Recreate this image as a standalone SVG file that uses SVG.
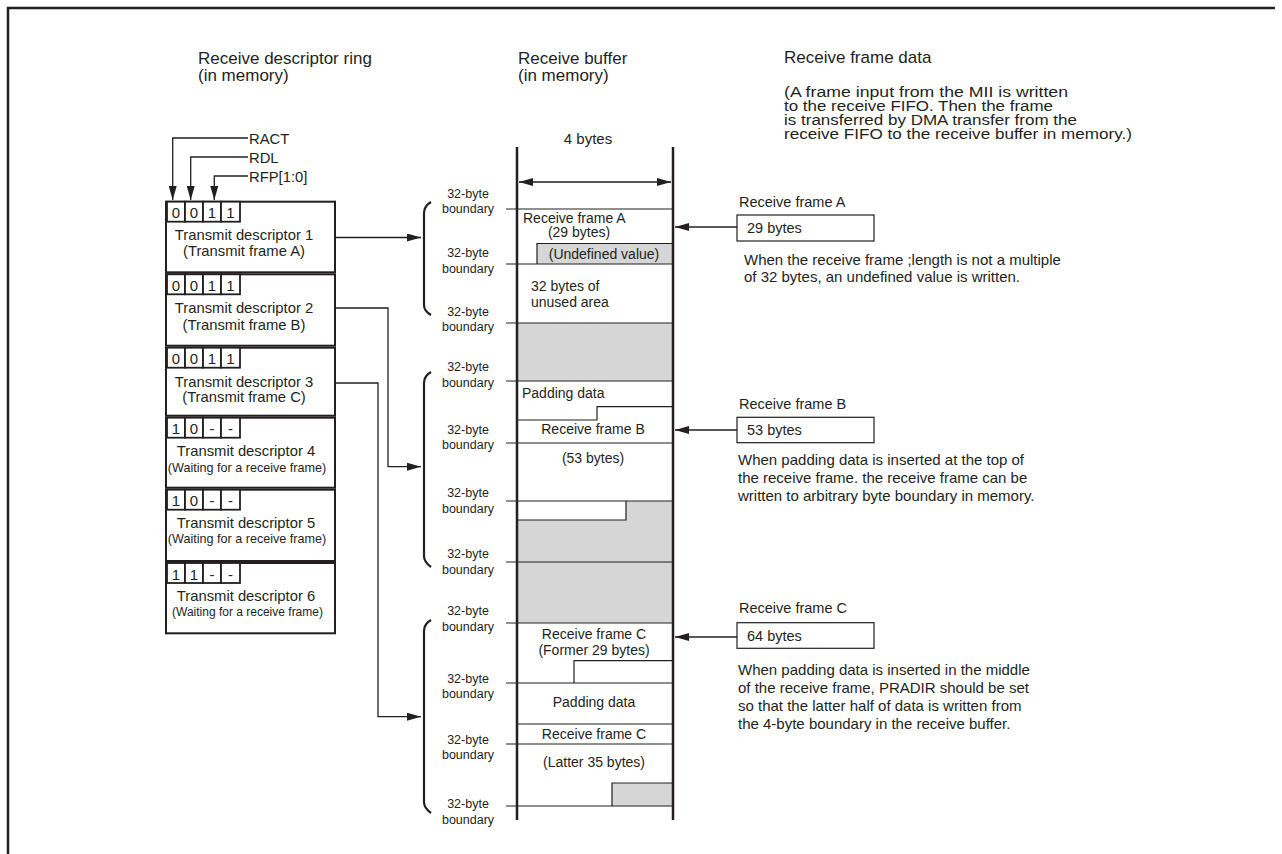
<svg xmlns="http://www.w3.org/2000/svg" width="1282" height="854" viewBox="0 0 1282 854">
<defs>
<marker id="ah" viewBox="0 0 14 8" refX="14" refY="4" markerWidth="14" markerHeight="8" markerUnits="userSpaceOnUse" orient="auto-start-reverse"><path d="M0,0 L14,4 L0,8 Z" fill="#231f20"/></marker>
<style>
text{font-family:"Liberation Sans",Arial,sans-serif;fill:#231f20}
.h{font-size:17px}
.p{font-size:14px}
.d{font-size:14.8px}
.bit{font-size:15px;text-anchor:middle}
.b{font-size:14px}
.m{text-anchor:middle}
.lbl{font-size:12.5px;text-anchor:middle}
.r{font-size:14.5px}
.ds{font-size:15px}
.box{fill:#fff;stroke:#231f20;stroke-width:2}
.cell{fill:#fff;stroke:#231f20;stroke-width:1.8}
.bl{fill:none;stroke:#231f20;stroke-width:1.2}
.thick{fill:none;stroke:#231f20;stroke-width:2.5}
.gray{fill:#d6d6d6}
.con{fill:none;stroke:#231f20;stroke-width:1.3;marker-end:url(#ah)}
.br{fill:none;stroke:#231f20;stroke-width:2.2}
</style>
</defs>
<rect width="1282" height="854" fill="#fff"/>
<path d="M8,854 V8 H1275" class="thick"/>

<g id="headings">
<text class="h" x="198" y="64">Receive descriptor ring</text>
<text class="h" x="198" y="81">(in memory)</text>
<text class="h" x="518" y="64">Receive buffer</text>
<text class="h" x="518" y="81">(in memory)</text>
<text class="h" x="784" y="63">Receive frame data</text>
<text class="p" x="784" y="97" textLength="284" lengthAdjust="spacingAndGlyphs">(A frame input from the MII is written</text>
<text class="p" x="784" y="111" textLength="269" lengthAdjust="spacingAndGlyphs">to the receive FIFO. Then the frame</text>
<text class="p" x="784" y="125" textLength="293" lengthAdjust="spacingAndGlyphs">is transferred by DMA transfer from the</text>
<text class="p" x="784" y="139" textLength="348" lengthAdjust="spacingAndGlyphs">receive FIFO to the receive buffer in memory.)</text>
</g>

<g id="bits-labels">
<text class="d" x="249" y="144">RACT</text>
<text class="d" x="249" y="163">RDL</text>
<text class="d" x="249" y="182">RFP[1:0]</text>
</g>

<g id="desc1">
<rect class="box" x="166" y="201.7" width="169" height="70.6"/>
<rect class="cell" x="167" y="201.7" width="18" height="20"/><rect class="cell" x="185" y="201.7" width="18" height="20"/><rect class="cell" x="203" y="201.7" width="18" height="20"/><rect class="cell" x="221" y="201.7" width="19" height="20"/>
<text class="bit" x="176" y="218">0</text><text class="bit" x="194" y="218">0</text><text class="bit" x="212" y="218">1</text><text class="bit" x="230.5" y="218">1</text>
<text class="d m" x="244" y="240">Transmit descriptor 1</text>
<text class="d m" x="244" y="256">(Transmit frame A)</text>
</g>
<g id="desc2">
<rect class="box" x="166" y="274.3" width="169" height="71.4"/>
<rect class="cell" x="167" y="274.3" width="18" height="20"/><rect class="cell" x="185" y="274.3" width="18" height="20"/><rect class="cell" x="203" y="274.3" width="18" height="20"/><rect class="cell" x="221" y="274.3" width="19" height="20"/>
<text class="bit" x="176" y="290.5">0</text><text class="bit" x="194" y="290.5">0</text><text class="bit" x="212" y="290.5">1</text><text class="bit" x="230.5" y="290.5">1</text>
<text class="d m" x="244" y="313">Transmit descriptor 2</text>
<text class="d m" x="244" y="330">(Transmit frame B)</text>
</g>
<g id="desc3">
<rect class="box" x="166" y="347.7" width="169" height="68"/>
<rect class="cell" x="167" y="347.7" width="18" height="20"/><rect class="cell" x="185" y="347.7" width="18" height="20"/><rect class="cell" x="203" y="347.7" width="18" height="20"/><rect class="cell" x="221" y="347.7" width="19" height="20"/>
<text class="bit" x="176" y="364">0</text><text class="bit" x="194" y="364">0</text><text class="bit" x="212" y="364">1</text><text class="bit" x="230.5" y="364">1</text>
<text class="d m" x="244" y="387">Transmit descriptor 3</text>
<text class="d m" x="244" y="402">(Transmit frame C)</text>
</g>
<g id="desc4">
<rect class="box" x="166" y="417.7" width="169" height="70"/>
<rect class="cell" x="167" y="417.7" width="18" height="20"/><rect class="cell" x="185" y="417.7" width="18" height="20"/><rect class="cell" x="203" y="417.7" width="18" height="20"/><rect class="cell" x="221" y="417.7" width="19" height="20"/>
<text class="bit" x="176" y="434">1</text><text class="bit" x="194" y="434">0</text><text class="bit" x="212" y="434">-</text><text class="bit" x="230.5" y="434">-</text>
<text class="d m" x="246" y="456">Transmit descriptor 4</text>
<text class="m" x="247" y="472" style="font-size:12.6px">(Waiting for a receive frame)</text>
</g>
<g id="desc5">
<rect class="box" x="166" y="489.7" width="169" height="71.3"/>
<rect class="cell" x="167" y="489.7" width="18" height="20"/><rect class="cell" x="185" y="489.7" width="18" height="20"/><rect class="cell" x="203" y="489.7" width="18" height="20"/><rect class="cell" x="221" y="489.7" width="19" height="20"/>
<text class="bit" x="176" y="506">1</text><text class="bit" x="194" y="506">0</text><text class="bit" x="212" y="506">-</text><text class="bit" x="230.5" y="506">-</text>
<text class="d m" x="246" y="527.5">Transmit descriptor 5</text>
<text class="m" x="247" y="543" style="font-size:12.6px">(Waiting for a receive frame)</text>
</g>
<g id="desc6">
<rect class="box" x="166" y="563" width="169" height="70.3"/>
<rect class="cell" x="167" y="563" width="18" height="20"/><rect class="cell" x="185" y="563" width="18" height="20"/><rect class="cell" x="203" y="563" width="18" height="20"/><rect class="cell" x="221" y="563" width="19" height="20"/>
<text class="bit" x="176" y="579.5">1</text><text class="bit" x="194" y="579.5">1</text><text class="bit" x="212" y="579.5">-</text><text class="bit" x="230.5" y="579.5">-</text>
<text class="d m" x="246" y="601">Transmit descriptor 6</text>
<text class="m" x="247.5" y="616" style="font-size:12px">(Waiting for a receive frame)</text>
</g>

<g id="buffer">
<rect class="gray" x="537" y="243.5" width="136" height="20.5"/>
<rect class="gray" x="517" y="323" width="156" height="58"/>
<rect class="gray" x="517" y="501" width="156" height="122"/>
<rect fill="#fff" x="517" y="501" width="109" height="19"/>
<rect class="gray" x="612" y="783" width="61" height="23"/>
<path class="bl" d="M537,264 V243.5 H673"/>
<path class="bl" d="M517,520 H626 V501"/>
<path class="bl" d="M612,806 V783 H673"/>
<path class="bl" d="M673,406.7 H597 V420 H517"/>
<path class="bl" d="M673,660.7 H574 V683"/>
<path class="bl" d="M517,724 H673"/>
<g class="bl">
<path d="M506,209 H673"/><path d="M506,264 H673"/><path d="M506,323 H673"/><path d="M506,381 H673"/><path d="M506,443 H673"/><path d="M506,501 H673"/><path d="M506,562 H673"/><path d="M506,623 H673"/><path d="M506,683 H673"/><path d="M506,744 H673"/><path d="M506,806 H673"/>
</g>
<path class="thick" d="M517,147 V820 M673,147 V820"/>
<text class="b m" x="588" y="144" style="font-size:15px">4 bytes</text>
<path d="M519,182 H671" fill="none" stroke="#231f20" stroke-width="1.3" marker-start="url(#ah)" marker-end="url(#ah)"/>
<text class="b" x="523" y="223">Receive frame A</text>
<text class="b m" x="579" y="237">(29 bytes)</text>
<text class="b m" x="604" y="258.5">(Undefined value)</text>
<text class="b" x="531" y="291">32 bytes of</text>
<text class="b" x="531" y="307">unused area</text>
<text class="b" x="522" y="398">Padding data</text>
<text class="b m" x="593" y="434">Receive frame B</text>
<text class="b m" x="593" y="463">(53 bytes)</text>
<text class="b m" x="594" y="639">Receive frame C</text>
<text class="b m" x="594" y="655">(Former 29 bytes)</text>
<text class="b m" x="594" y="707">Padding data</text>
<text class="b m" x="594" y="739">Receive frame C</text>
<text class="b m" x="594" y="767">(Latter 35 bytes)</text>
</g>

<g id="boundary-labels">
<text class="lbl" x="468" y="197.5">32-byte</text><text class="lbl" x="468" y="212.5">boundary</text>
<text class="lbl" x="468" y="257">32-byte</text><text class="lbl" x="468" y="273">boundary</text>
<text class="lbl" x="468" y="315.5">32-byte</text><text class="lbl" x="468" y="331">boundary</text>
<text class="lbl" x="468" y="371">32-byte</text><text class="lbl" x="468" y="387">boundary</text>
<text class="lbl" x="468" y="434">32-byte</text><text class="lbl" x="468" y="449">boundary</text>
<text class="lbl" x="468" y="497">32-byte</text><text class="lbl" x="468" y="513">boundary</text>
<text class="lbl" x="468" y="558">32-byte</text><text class="lbl" x="468" y="574">boundary</text>
<text class="lbl" x="468" y="614.5">32-byte</text><text class="lbl" x="468" y="631">boundary</text>
<text class="lbl" x="468" y="683">32-byte</text><text class="lbl" x="468" y="698">boundary</text>
<text class="lbl" x="468" y="744">32-byte</text><text class="lbl" x="468" y="759">boundary</text>
<text class="lbl" x="468" y="808">32-byte</text><text class="lbl" x="468" y="824">boundary</text>
</g>

<g id="brackets">
<path class="br" d="M431,202 Q424,206 424,213 V305 Q424,311 431,315"/>
<path class="br" d="M431,372 Q424,376 424,383 V556 Q424,562 431,567"/>
<path class="br" d="M431,620 Q424,624 424,631 V802 Q424,808 431,813"/>
</g>

<g id="frameA">
<text class="r" x="739" y="207">Receive frame A</text>
<rect class="bl" x="737" y="215" width="137" height="26"/>
<text class="r" x="747" y="233">29 bytes</text>
<text class="ds" x="744" y="265">When the receive frame ;length is not a multiple</text>
<text class="ds" x="744" y="282">of 32 bytes, an undefined value is written.</text>
</g>
<g id="frameB">
<text class="r" x="739" y="409">Receive frame B</text>
<rect class="bl" x="737" y="417.3" width="137" height="25.4"/>
<text class="r" x="747" y="434.5">53 bytes</text>
<text class="ds" x="738" y="465">When padding data is inserted at the top of</text>
<text class="ds" x="738" y="483">the receive frame. the receive frame can be</text>
<text class="ds" x="738" y="501">written to arbitrary byte boundary in memory.</text>
</g>
<g id="frameC">
<text class="r" x="739" y="613">Receive frame C</text>
<rect class="bl" x="737" y="622.7" width="137" height="25.6"/>
<text class="r" x="747" y="641">64 bytes</text>
<text class="ds" x="738" y="675">When padding data is inserted in the middle</text>
<text class="ds" x="738" y="693">of the receive frame, PRADIR should be set</text>
<text class="ds" x="738" y="711">so that the latter half of data is written from</text>
<text class="ds" x="738" y="728.5">the 4-byte boundary in the receive buffer.</text>
</g>

<g id="connectors">
<path class="con" d="M248,138 H172.7 V200"/>
<path class="con" d="M248,157 H190.7 V200"/>
<path class="con" d="M248,176 H214.3 V200"/>
<path class="con" d="M335,237.5 H421"/>
<path class="con" d="M335,308 H388 V466.7 H421"/>
<path class="con" d="M335,383 H378 V716.7 H421"/>
<path class="con" d="M737,227 H675"/>
<path class="con" d="M737,430 H675"/>
<path class="con" d="M737,637 H675"/>
</g>
</svg>
